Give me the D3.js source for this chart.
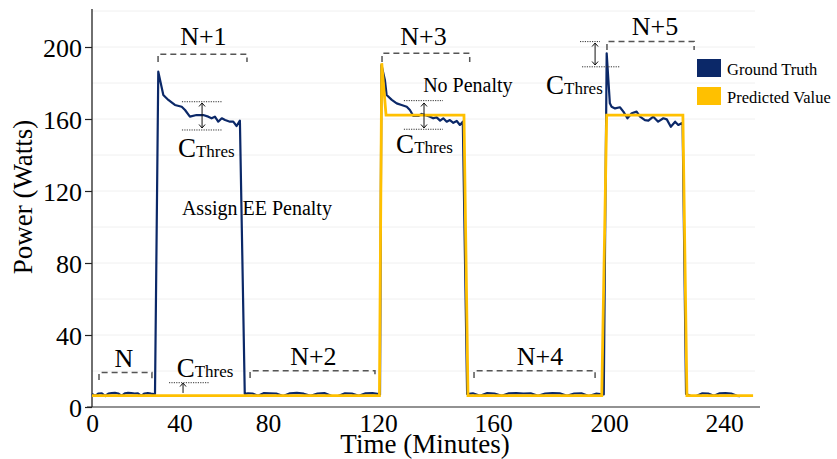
<!DOCTYPE html>
<html><head><meta charset="utf-8">
<script src="https://cdn.jsdelivr.net/npm/d3@7"></script>
<style>
body{margin:0;background:#fff;}
svg{display:block;font-family:"Liberation Serif","Times New Roman",serif;}
</style>
</head><body><svg id="c" width="837" height="459"></svg>
<script>
// ---------- data ----------
const xTicks = [0, 40, 80, 120, 160, 200, 240];
const yTicks = [0, 40, 80, 120, 160, 200];
const seriesNames = ["Ground Truth", "Predicted Value"];

const gtMinutes = [
  0, 1.5, 3, 4.5, 6, 7.5, 9, 10.5, 12, 13.5, 15, 16.5, 18, 19.5, 21, 22.5, 24, 25.5, 27, 28.3,
  28.8, 30.3, 32.6, 34.9, 37.9, 41.0, 42.5, 44.7, 47.7, 50.7, 53.0, 54.5, 56.0, 57.5, 59.1, 60.6, 62.8, 64.3, 65.8, 67.3,
  69.5, 71, 73, 75.5, 78, 80.5, 83, 85.5, 88, 90.5, 93, 95.5, 98, 100.5, 103, 105.5, 108, 110.5, 113, 115.5, 118, 120.3,
  120.7, 121.2, 122.4, 123.0, 124.8, 126.5, 128.2, 130.0, 131.1, 132.3, 134.0, 135.2, 136.3, 138.1, 139.2, 140.4, 141.6, 142.7, 143.9, 145.0, 146.2, 147.4, 148.5, 149.5,
  151.0, 153, 155.5, 158, 160.5, 163, 165.5, 168, 170.5, 173, 175.5, 178, 180.5, 183, 185.5, 188, 190.5, 193, 195.5, 197.8,
  198.2, 199.2, 200.3, 200.9, 202.1, 203.8, 205.0, 206.4, 207.9, 209.6, 210.8, 212.5, 213.7, 215.4, 217.1, 218.9, 220.1, 221.5, 223.0, 224.1, 225.6,
  226.8, 228.5, 230.5, 232.5, 234.5, 236.5, 238.5, 240.5, 242.5, 244.5, 245.6
];
const gtWatts = [
  7.2, 6.2, 7.5, 7.6, 6.1, 7.4, 7.7, 7.8, 7.5, 6.2, 7.6, 7.8, 7.7, 7.5, 7.6, 6.2, 7.5, 7.7, 7.4, 7.2,
  7.2, 186.3, 173.3, 170.6, 167.8, 166.8, 165.0, 161.3, 162.2, 162.2, 161.3, 160.4, 161.3, 158.5, 160.4, 159.4, 158.5, 158.5, 156.1, 159.1,
  7.3, 7.6, 7.5, 6.2, 7.7, 7.6, 7.5, 6.1, 7.6, 7.8, 7.4, 6.2, 7.5, 7.7, 6.2, 6.1, 7.6, 7.5, 6.2, 7.6, 7.7, 7.2,
  7.0, 190.0, 181.7, 173.3, 170.6, 168.7, 167.8, 166.8, 165.0, 161.7, 161.7, 162.8, 162.2, 161.3, 160.4, 160.9, 159.1, 160.4, 158.5, 159.4, 157.9, 158.9, 156.7, 158.5,
  7.2, 7.6, 6.2, 7.7, 7.5, 6.2, 7.6, 7.7, 7.5, 7.6, 6.2, 7.5, 7.7, 7.6, 6.2, 7.5, 7.6, 6.1, 7.4, 7.0,
  7.0, 196.5, 168.7, 166.8, 165.9, 166.5, 164.1, 160.4, 163.2, 164.1, 161.3, 159.4, 159.1, 161.3, 158.5, 160.4, 159.8, 155.7, 158.5, 156.7, 157.9,
  7.2, 6.1, 6.2, 7.6, 7.5, 6.2, 7.6, 7.7, 7.5, 6.2, 6.0
];

const predMinutes = [0, 120.5, 121.3, 122.8, 149.9, 151.3, 197.5, 199.2, 225.7, 227.1, 250.1];
const predWatts   = [6.3, 6.3, 191, 162.2, 162.2, 6.3, 6.3, 162.2, 162.2, 6.3, 6.3];

// annotation content (data units: minutes, watts)
const periodLabels = ["N", "N+1", "N+2", "N+3", "N+4", "N+5"];
const periodLabelPos = [[14.6, 22.2], [50.8, 201], [96.5, 23.3], [135.8, 201], [176.2, 23.3], [216, 206.7]];
const bracketSpans = [[3.2, 27.4, 19.1, 15.0], [30.2, 70.5, 196.0, 191.7], [71.9, 118.9, 20.2, 16.1],
                      [121.4, 151.9, 196.5, 191.7], [153.4, 195.2, 20.2, 16.1], [199.3, 229.6, 203.0, 198.3]];
const noteTexts = ["Assign EE Penalty", "No Penalty"];
const notePos = [[41.1, 106.7], [135.7, 175]];
const cThresPos = [[39.3, 139], [126.3, 141], [178.3, 173.9], [38.7, 16.8]];
const dottedLines = [
  [41.1, 59.2, 169.6], [41.1, 59.2, 153.9],
  [129.0, 142.6, 170.2], [129.0, 142.6, 154.3],
  [190.0, 196.9, 203.0], [190.7, 203.8, 189.0],
  [35.2, 53.3, 13.5]
];
const arrows = [[50.2, 168.9, 155.0, true], [136.0, 168.9, 155.0, true], [195.2, 202.2, 190.0, true], [41.6, 13.3, 7.8, false]];

// ---------- layout ----------
const navy = "#0b2868", gold = "#FFC000";
const svg = d3.select("#c");

const x = d3.scaleLinear()
  .domain([0, 40, 80, 120, 160, 200, 240, 252.5])
  .range([92, 179.5, 268, 378, 493, 609, 724, 760]);
const y = d3.scaleLinear().domain([0, 220]).range([407, 11]);

// gridlines
svg.append("g").selectAll("line").data(d3.range(20, 221, 20)).join("line")
  .attr("x1", 92).attr("x2", 755)
  .attr("y1", d => y(d)).attr("y2", d => y(d))
  .attr("stroke", "#f0f0f0").attr("stroke-width", 1);

// x axis line
svg.append("line").attr("x1", 87).attr("x2", 760).attr("y1", y(0)).attr("y2", y(0))
  .attr("stroke", "#6e6e6e").attr("stroke-width", 1.6);

// y axis
const yAx = svg.append("g").attr("transform", "translate(92,0)")
  .call(d3.axisLeft(y).tickValues(yTicks).tickSize(7).tickSizeOuter(0).tickPadding(3));
yAx.select(".domain").attr("stroke", "#222").attr("stroke-width", 1.3).attr("d", "M0,9V407");
yAx.selectAll(".tick line").attr("stroke", "#222").attr("stroke-width", 1.2);
yAx.selectAll("text").attr("font-size", 26).attr("font-family", "Liberation Serif")
  .attr("fill", "#000").attr("dy", null).attr("y", 9);

// x axis
const xAx = svg.append("g").attr("transform", `translate(0,${y(0)})`)
  .call(d3.axisBottom(x).tickValues(xTicks).tickSize(0));
xAx.select(".domain").remove();
xAx.selectAll("text").attr("font-size", 25.5).attr("font-family", "Liberation Serif")
  .attr("fill", "#000").attr("dy", null).attr("y", 24.5);

// axis titles
svg.append("text").attr("x", 425).attr("y", 453).attr("text-anchor", "middle")
  .attr("font-size", 27).text("Time (Minutes)");
svg.append("text").attr("transform", "translate(32,197) rotate(-90)").attr("text-anchor", "middle")
  .attr("font-size", 27).text("Power (Watts)");

// lines
const line = d3.line().x(d => x(d[0])).y(d => y(d[1]));
svg.append("path").datum(d3.zip(gtMinutes, gtWatts))
  .attr("d", line).attr("fill", "none").attr("stroke", navy).attr("stroke-width", 2.2)
  .attr("stroke-linejoin", "round");
svg.append("path").datum(d3.zip(predMinutes, predWatts))
  .attr("d", line).attr("fill", "none").attr("stroke", gold).attr("stroke-width", 2.8)
  .attr("stroke-linejoin", "miter");

// brackets
const ann = svg.append("g");
bracketSpans.forEach(([a, b, top, bot]) => {
  ann.append("path")
    .attr("d", `M${x(a)},${y(bot)}V${y(top)}H${x(b)}V${y(bot)}`)
    .attr("fill", "none").attr("stroke", "#555").attr("stroke-width", 1.5)
    .attr("stroke-dasharray", "6,4");
});
periodLabels.forEach((t, i) => {
  ann.append("text").attr("x", x(periodLabelPos[i][0])).attr("y", y(periodLabelPos[i][1]))
    .attr("text-anchor", "middle").attr("font-size", 26).text(t);
});
noteTexts.forEach((t, i) => {
  ann.append("text").attr("x", x(notePos[i][0])).attr("y", y(notePos[i][1]))
    .attr("font-size", 20).text(t);
});
cThresPos.forEach(([m, w]) => {
  const t = ann.append("text").attr("x", x(m)).attr("y", y(w));
  t.append("tspan").attr("font-size", 27).text("C");
  t.append("tspan").attr("font-size", 17).text("Thres");
});
dottedLines.forEach(([a, b, w]) => {
  ann.append("line").attr("x1", x(a)).attr("x2", x(b)).attr("y1", y(w)).attr("y2", y(w))
    .attr("stroke", "#333").attr("stroke-width", 1).attr("stroke-dasharray", "1.2,1.2");
});
arrows.forEach(([m, w1, w2, both]) => {
  const ax = x(m), y1 = y(w1), y2 = y(w2);
  let d = `M${ax},${y1}V${y2}M${ax - 3},${y1 + 3.5}L${ax},${y1}L${ax + 3},${y1 + 3.5}`;
  if (both) d += `M${ax - 3},${y2 - 3.5}L${ax},${y2}L${ax + 3},${y2 - 3.5}`;
  ann.append("path").attr("d", d).attr("fill", "none").attr("stroke", "#111").attr("stroke-width", 1);
});

// legend
const legColors = [navy, gold];
const leg = svg.append("g");
seriesNames.forEach((n, i) => {
  leg.append("rect").attr("x", 697).attr("y", 59 + i * 28).attr("width", 24).attr("height", 18)
    .attr("fill", legColors[i]);
  leg.append("text").attr("x", 727).attr("y", 75 + i * 28).attr("font-size", 16.5).text(n);
});
</script>
</body></html>
